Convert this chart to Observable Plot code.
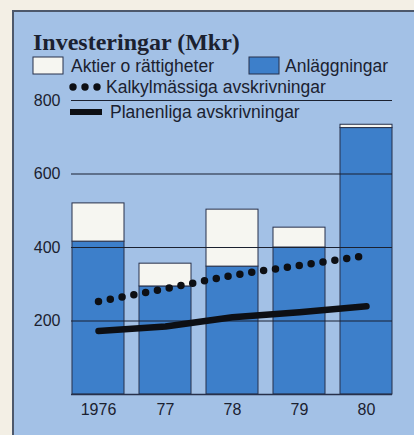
<!DOCTYPE html>
<html>
<head>
<meta charset="utf-8">
<script src="https://cdn.jsdelivr.net/npm/d3@7"></script>
<script src="https://cdn.jsdelivr.net/npm/@observablehq/plot@0.6"></script>
<style>
  html, body { margin: 0; padding: 0; background: #f3efe5; width: 414px; height: 435px; overflow: hidden; }
  #panel { position: absolute; left: 12px; top: 10px; width: 402px; height: 425px; background: #a3c1e6;
           border-left: 2px solid #4d586b; border-top: 2px solid #4d586b; box-sizing: border-box; }
  #chart { position: absolute; left: 0; top: 0; }
</style>
</head>
<body>
<div id="panel"></div>
<div id="chart"></div>
<script>
const years = ["1976", "1977", "1978", "1979", "1980"];
const yearLabels = ["1976", "77", "78", "79", "80"];
const anlaggningar = [416, 294, 348, 400, 725];
const aktier = [104, 62, 155, 54, 9];
const kalkylmassiga = [253, 288, 324, 351, 378];
const planenliga = [173, 185, 210, 224, 240];
const yTicks = [200, 400, 600, 800];

const title = "Investeringar (Mkr)";
const legendAktier = "Aktier o rättigheter";
const legendAnl = "Anläggningar";
const legendKalk = "Kalkylmässiga avskrivningar";
const legendPlan = "Planenliga avskrivningar";

const BLUE = "#3d7fca";
const WHITE = "#f6f6f1";
const INK = "#1b2130";

const bars = [];
years.forEach((y, i) => {
  bars.push({year: y, value: anlaggningar[i], color: BLUE});
  bars.push({year: y, value: aktier[i], color: WHITE});
});
const kalk = years.map((y, i) => ({year: y, value: kalkylmassiga[i]}));
const plan = years.map((y, i) => ({year: y, value: planenliga[i]}));

const chart = Plot.plot({
  width: 414,
  height: 435,
  marginLeft: 71,
  marginRight: 22,
  marginTop: 100,
  marginBottom: 41,
  style: {background: "transparent", fontFamily: "'Liberation Sans', Arial, sans-serif", fontSize: "16px", color: INK, overflow: "visible"},
  x: {domain: years, paddingInner: 0.224, paddingOuter: 0},
  y: {domain: [0, 800]},
  color: {type: "identity"},
  marks: [
    Plot.barY(bars, Plot.stackY({x: "year", y: "value", fill: "color", stroke: "#27304a", strokeWidth: 1})),
    Plot.ruleY(yTicks, {stroke: INK, strokeWidth: 1.2}),
    Plot.ruleY([0], {stroke: "#27304a", strokeWidth: 1.5}),
    Plot.line(plan, {x: "year", y: "value", stroke: "#0d0f14", strokeWidth: 6.5}),
    Plot.line(kalk, {x: "year", y: "value", stroke: "#0d0f14", strokeWidth: 7.5, strokeLinecap: "round", strokeDasharray: "0 12", curve: "monotone-x"}),
    Plot.axisY(yTicks, {tickSize: 0, tickPadding: 11, label: null, fontSize: 16, fill: INK}),
    Plot.axisX({tickSize: 0, tickPadding: 9, label: null, fontSize: 16, fill: INK, tickFormat: d => yearLabels[years.indexOf(d)]})
  ]
});
document.getElementById("chart").appendChild(chart);

// Title and legend
const svg = d3.select(chart);
const g = svg.append("g").attr("fill", INK).attr("text-anchor", "start")
  .style("font-family", "'Liberation Sans', Arial, sans-serif");
const txt = (x, y, s) => g.append("text").attr("x", x).attr("y", y).attr("text-anchor", "start").style("font-size", "17.5px").text(s);
g.append("text").attr("x", 33).attr("y", 50).attr("text-anchor", "start")
  .style("font-family", "'Liberation Serif', 'Times New Roman', serif").style("font-weight", "bold").style("font-size", "24px")
  .text(title);
g.append("rect").attr("x", 33).attr("y", 57).attr("width", 30).attr("height", 17).attr("fill", WHITE).attr("stroke", "#27304a");
txt(71, 71.5, legendAktier);
g.append("rect").attr("x", 249).attr("y", 57).attr("width", 30).attr("height", 17).attr("fill", BLUE).attr("stroke", "#27304a");
txt(285, 71.5, legendAnl);
[73, 85, 97].forEach(cx => g.append("circle").attr("cx", cx).attr("cy", 87).attr("r", 3.7).attr("fill", "#0d0f14"));
txt(106, 93, legendKalk);
g.append("rect").attr("x", 70).attr("y", 109).attr("width", 32).attr("height", 6).attr("fill", "#0d0f14");
txt(110, 118, legendPlan);
</script>
</body>
</html>
